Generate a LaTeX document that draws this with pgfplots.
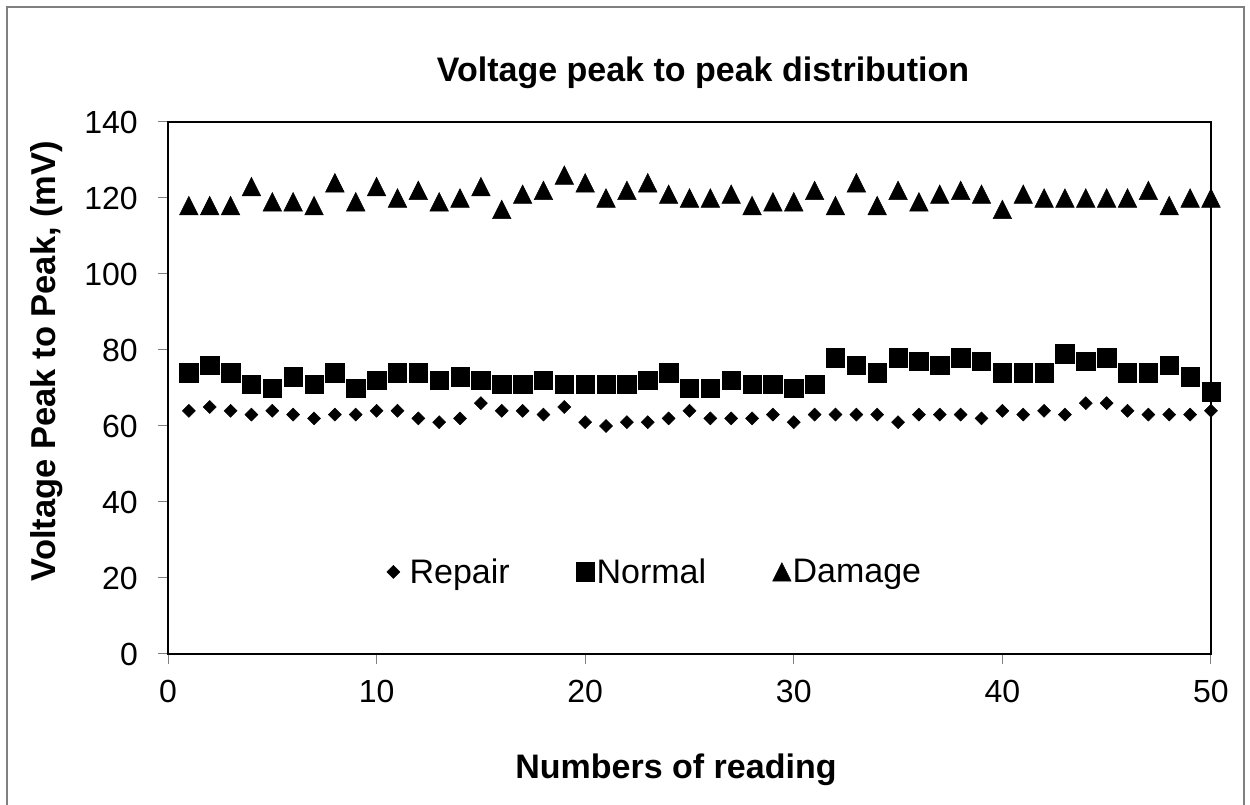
\documentclass[border=0pt]{standalone}
\usepackage{fontspec}
\setmainfont{Liberation Sans}
\usepackage{pgfplots}
\pgfplotsset{compat=1.18}

\pgfdeclareplotmark{xltri}{%
  \pgfpathmoveto{\pgfqpoint{0pt}{\pgfplotmarksize}}%
  \pgfpathlineto{\pgfqpoint{\pgfplotmarksize}{-\pgfplotmarksize}}%
  \pgfpathlineto{\pgfqpoint{-\pgfplotmarksize}{-\pgfplotmarksize}}%
  \pgfpathclose\pgfusepathqfillstroke}
\pgfdeclareplotmark{xldia}{%
  \pgfpathmoveto{\pgfqpoint{0pt}{\pgfplotmarksize}}%
  \pgfpathlineto{\pgfqpoint{\pgfplotmarksize}{0pt}}%
  \pgfpathlineto{\pgfqpoint{0pt}{-\pgfplotmarksize}}%
  \pgfpathlineto{\pgfqpoint{-\pgfplotmarksize}{0pt}}%
  \pgfpathclose\pgfusepathqfillstroke}
\pgfdeclareplotmark{xlsq}{%
  \pgfpathrectangle{\pgfqpoint{-\pgfplotmarksize}{-\pgfplotmarksize}}{\pgfqpoint{2\pgfplotmarksize}{2\pgfplotmarksize}}%
  \pgfusepathqfillstroke}

\pgfplotsset{
  xllegA/.style={legend image code/.code={\path (-9.5pt,0pt) (16pt,0pt); \draw[##1] plot coordinates {(0pt,0pt)};}},
  xllegB/.style={legend image code/.code={\path (-9.5pt,0pt) (11pt,0pt); \draw[##1] plot coordinates {(0pt,0pt)};}},
  xllegC/.style={legend image code/.code={\path (-9.5pt,0pt) (10.5pt,0pt); \draw[##1] plot coordinates {(0pt,0pt)};}},
}

\pgfplotstableread{
x repair normal damage
1 64 74 118
2 65 76 118
3 64 74 118
4 63 71 123
5 64 70 119
6 63 73 119
7 62 71 118
8 63 74 124
9 63 70 119
10 64 72 123
11 64 74 120
12 62 74 122
13 61 72 119
14 62 73 120
15 66 72 123
16 64 71 117
17 64 71 121
18 63 72 122
19 65 71 126
20 61 71 124
21 60 71 120
22 61 71 122
23 61 72 124
24 62 74 121
25 64 70 120
26 62 70 120
27 62 72 121
28 62 71 118
29 63 71 119
30 61 70 119
31 63 71 122
32 63 78 118
33 63 76 124
34 63 74 118
35 61 78 122
36 63 77 119
37 63 76 121
38 63 78 122
39 62 77 121
40 64 74 117
41 63 74 121
42 64 74 120
43 63 79 120
44 66 77 120
45 66 78 120
46 64 74 120
47 63 74 122
48 63 76 118
49 63 73 120
50 64 69 120
}\datatable

\definecolor{framegray}{RGB}{128,128,128}
\definecolor{tickgray}{RGB}{128,128,128}

\begin{document}
\begin{tikzpicture}[x=1pt,y=1pt]
\useasboundingbox (0,0) rectangle (1250,805);
\draw[framegray, line width=2pt] (7,-20) rectangle (1244,798);
\begin{axis}[
  at={(168pt,151pt)}, anchor=south west,
  scale only axis, width=1043pt, height=532pt,
  xmin=0, xmax=50, ymin=0, ymax=140,
  xtick={0,10,...,50}, ytick={0,20,...,140},
  tick align=outside, major tick length=10pt,
  tick style={tickgray, line width=1pt},
  xtick pos=bottom, ytick pos=left,
  axis line style={black, line width=2.3pt},
  ticklabel style={font=\fontsize{32}{38}\selectfont},
  /pgf/number format/assume math mode=true,
  yticklabel style={inner sep=0pt, xshift=-20pt},
  xticklabel style={inner sep=0pt, yshift=-16pt},
  clip=false,
  legend columns=3,
  legend cell align=left,
  legend style={draw=none, fill=none, font=\fontsize{34}{40}\selectfont,
    at={(axis cs:10.33,21.6)}, anchor=west, inner sep=0pt,
    /tikz/every even column/.append style={column sep=66pt},
    nodes={inner sep=0pt}},
]
\addplot[only marks, mark=xldia, mark size=6.5pt, mark options={fill=black, draw=black, line width=0.5pt}, xllegA]
  table[x=x, y=repair] {\datatable};
\addlegendentry{Repair}
\addplot[only marks, mark=xlsq, mark size=9.2pt, mark options={fill=black, draw=black, line width=0.5pt}, xllegB]
  table[x=x, y=normal] {\datatable};
\addlegendentry{Normal}
\addplot[only marks, mark=xltri, mark size=9.3pt, mark options={fill=black, draw=black, line width=0.5pt}, xllegC]
  table[x=x, y=damage] {\datatable};
\addlegendentry{Damage}
\end{axis}
\node[anchor=base, font=\bfseries\fontsize{34}{40}\selectfont] at (703,723) {Voltage peak to peak distribution};
\node[anchor=base, font=\bfseries\fontsize{34}{40}\selectfont] at (676,26) {Numbers of reading};
\node[anchor=base, rotate=90, font=\bfseries\fontsize{34.5}{41}\selectfont] at (55,444) {Voltage Peak to Peak, (mV)};
\end{tikzpicture}
\end{document}
